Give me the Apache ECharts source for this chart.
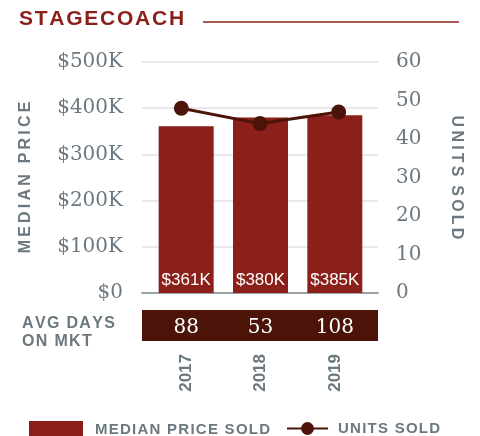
<!DOCTYPE html>
<html>
<head>
<meta charset="utf-8">
<script src="https://cdn.jsdelivr.net/npm/echarts@6/dist/echarts.min.js"></script>
<style>
  html, body { margin: 0; padding: 0; background: #fff; }
  #main { width: 480px; height: 436px; }
</style>
</head>
<body>
<div id="main"></div>
<script>
// data
const years = ['2017', '2018', '2019'];
const medianPrice = [361000, 380000, 385000];
const unitsSold = [48, 44, 47];
const avgDays = [88, 53, 108];

const RED = '#8a2019';
const DARK = '#4c1309';
const GRAY = '#6c787f';
const SANS = 'Liberation Sans';
const SERIF = 'DejaVu Serif';

// no letterSpacing in canvas text, so pad with thin/hair spaces
const HAIR = '\u200A';
const THIN = '\u2009';
const spread = (s, sep) => s.split('').join(sep);

const chart = echarts.init(document.getElementById('main'));

chart.setOption({
    animation: false,
    title: [
        {
            text: spread('STAGECOACH', HAIR),
            left: 19, top: 9, padding: 0,
            textStyle: { color: RED, fontFamily: SANS, fontWeight: 'bold', fontSize: 21 }
        },
        {
            text: spread('AVG DAYS', HAIR) + '\n' + spread('ON MKT', HAIR),
            left: 22, top: 315, padding: 0,
            textStyle: { color: GRAY, fontFamily: SANS, fontWeight: 'bold', fontSize: 16, lineHeight: 18 }
        }
    ],
    graphic: [
        { type: 'line', shape: { x1: 203, y1: 22, x2: 459, y2: 22 }, style: { stroke: RED, lineWidth: 1.5 } }
    ],
    legend: [
        {
            data: ['MEDIAN PRICE SOLD'],
            left: 29, top: 421, padding: 0,
            icon: 'rect', itemWidth: 54, itemHeight: 17,
            formatter: n => spread(n, HAIR),
            textStyle: { color: GRAY, fontFamily: SANS, fontWeight: 'bold', fontSize: 15, padding: [0, 0, 0, 7] }
        },
        {
            data: ['UNITS SOLD'],
            left: 286, top: 421, padding: 0,
            itemWidth: 41, itemHeight: 16,
            formatter: n => spread(n, HAIR),
            textStyle: { color: GRAY, fontFamily: SANS, fontWeight: 'bold', fontSize: 15, padding: [0, 0, 0, 5] }
        }
    ],
    grid: [
        { left: 142, width: 236, top: 62, height: 231 },
        { left: 149, width: 223, top: 62, height: 231 },
        { left: 142, width: 236, top: 310, height: 31 }
    ],
    xAxis: [
        {
            gridIndex: 0, type: 'category', data: years,
            axisLine: { lineStyle: { color: '#9aa1a6', width: 2 } },
            axisTick: { show: false }, axisLabel: { show: false }
        },
        {
            gridIndex: 1, type: 'category', data: years,
            axisLine: { show: false }, axisTick: { show: false },
            axisLabel: { rotate: 90, margin: 61, color: GRAY, fontFamily: SANS, fontWeight: 'bold', fontSize: 17 }
        },
        {
            gridIndex: 1, type: 'category', data: avgDays.map(String), position: 'bottom', z: 5,
            axisLine: { show: false }, axisTick: { show: false },
            axisLabel: { margin: 25, color: '#fff', fontFamily: SERIF, fontSize: 20 }
        },
        {
            // one band for the whole days strip
            gridIndex: 2, type: 'category', data: ['days'], show: false
        }
    ],
    yAxis: [
        {
            gridIndex: 0, type: 'value', min: 0, max: 500000, interval: 100000, position: 'left',
            name: spread('MEDIAN PRICE', THIN), nameLocation: 'middle', nameGap: 108,
            nameTextStyle: { color: GRAY, fontFamily: SANS, fontWeight: 'bold', fontSize: 16 },
            axisLine: { show: false }, axisTick: { show: false },
            axisLabel: {
                margin: 19, color: GRAY, fontFamily: SERIF, fontSize: 20,
                formatter: v => v === 0 ? '$0' : '$' + v / 1000 + 'K'
            },
            splitLine: { lineStyle: { color: '#e9e9e9', width: 2 } }
        },
        {
            gridIndex: 0, type: 'value', min: 0, max: 60, interval: 10, position: 'right',
            name: spread('UNITS', THIN) + '  ' + spread('SOLD', THIN), nameLocation: 'middle', nameGap: 70, nameRotate: -90,
            nameTextStyle: { color: GRAY, fontFamily: SANS, fontWeight: 'bold', fontSize: 16 },
            axisLine: { show: false }, axisTick: { show: false },
            axisLabel: { margin: 18, color: GRAY, fontFamily: SERIF, fontSize: 20 },
            splitLine: { show: false }
        },
        { gridIndex: 1, type: 'value', min: 0, max: 500000, show: false },
        { gridIndex: 2, type: 'value', min: 0, max: 1, show: false }
    ],
    series: [
        {
            name: 'MEDIAN PRICE SOLD', type: 'bar', xAxisIndex: 1, yAxisIndex: 2,
            data: medianPrice, barWidth: 55,
            itemStyle: { color: RED },
            label: {
                show: true, position: 'insideBottom', distance: 4,
                color: '#fff', fontFamily: SANS, fontSize: 17,
                formatter: p => '$' + Math.round(p.value / 1000) + 'K'
            }
        },
        {
            name: 'UNITS SOLD', type: 'line', xAxisIndex: 0, yAxisIndex: 1,
            data: unitsSold, z: 10,
            symbol: 'circle', symbolSize: 15,
            itemStyle: { color: DARK },
            lineStyle: { color: DARK, width: 3 }
        },
        {
            name: 'days', type: 'bar', xAxisIndex: 3, yAxisIndex: 3,
            data: [1], barWidth: '100%', silent: true,
            itemStyle: { color: DARK }
        }
    ]
});
</script>
</body>
</html>
